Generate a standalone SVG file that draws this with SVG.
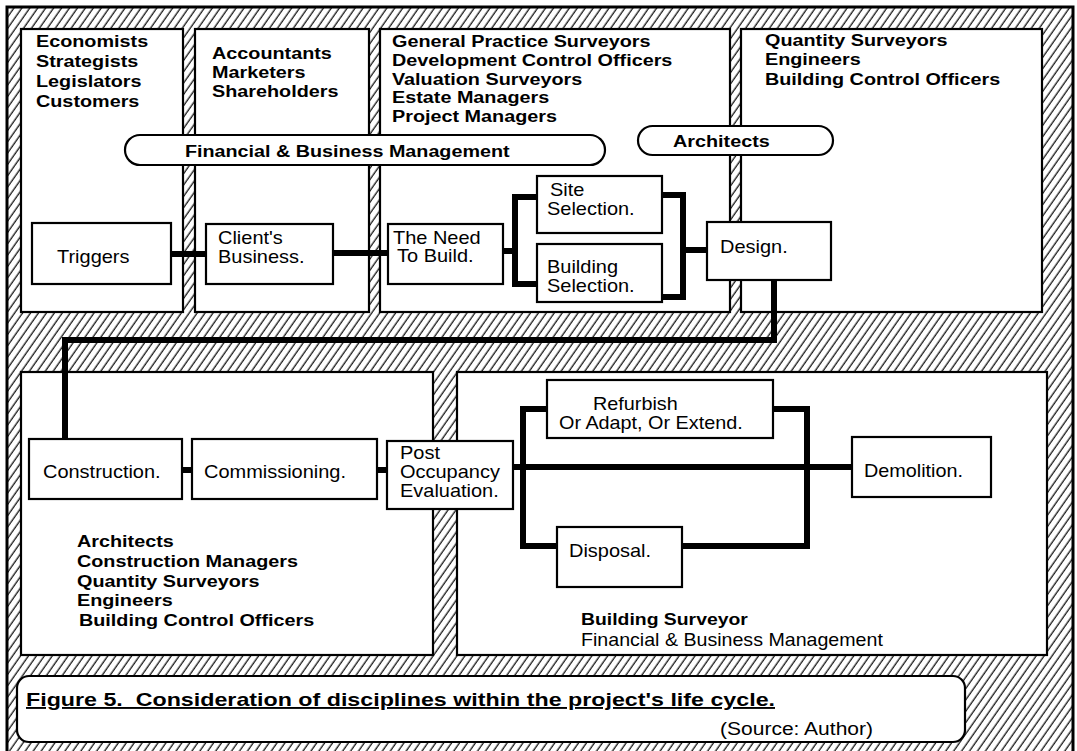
<svg xmlns="http://www.w3.org/2000/svg" width="1077" height="751" viewBox="0 0 1077 751">
  <defs>
    <pattern id="hatch" patternUnits="userSpaceOnUse" width="8" height="6.5" patternTransform="rotate(-55)">
      <line x1="-1" y1="3" x2="9" y2="3" stroke="#000" stroke-width="1.2"/>
    </pattern>
  </defs>
  <style>
    .panel { fill: #fff; stroke: #000; stroke-width: 2.2; }
    .box { fill: #fff; stroke: #000; stroke-width: 2.2; }
    .pill { fill: #fff; stroke: #000; stroke-width: 2.2; }
    .link { fill: none; stroke: #000; stroke-width: 6; stroke-linejoin: miter; stroke-linecap: butt; }
    .b { font-family: "Liberation Sans", Arial, sans-serif; font-weight: bold; font-size: 17px; fill: #000; }
    .r { font-family: "Liberation Sans", Arial, sans-serif; font-size: 18px; fill: #000; }
    .cap { font-family: "Liberation Sans", Arial, sans-serif; font-weight: bold; font-size: 19px; fill: #000; text-decoration: underline; white-space: pre; }
  </style>

  <!-- hatched frame -->
  <rect id="frame" x="7" y="7" width="1066" height="748" fill="url(#hatch)" stroke="#000" stroke-width="3"/>

  <!-- discipline panels -->
  <g id="panel-economic">
    <rect class="panel" x="21" y="29" width="162" height="283"/>
    <text class="b" transform="translate(36 47) scale(1.165 1)">Economists</text>
    <text class="b" transform="translate(36 67) scale(1.165 1)">Strategists</text>
    <text class="b" transform="translate(36 87) scale(1.165 1)">Legislators</text>
    <text class="b" transform="translate(36 107) scale(1.165 1)">Customers</text>
  </g>
  <g id="panel-business">
    <rect class="panel" x="195" y="29" width="174" height="283"/>
    <text class="b" transform="translate(212 59) scale(1.165 1)">Accountants</text>
    <text class="b" transform="translate(212 78) scale(1.165 1)">Marketers</text>
    <text class="b" transform="translate(212 97) scale(1.165 1)">Shareholders</text>
  </g>
  <g id="panel-property">
    <rect class="panel" x="380" y="29" width="350" height="283"/>
    <text class="b" transform="translate(392 47) scale(1.165 1)">General Practice Surveyors</text>
    <text class="b" transform="translate(392 65.75) scale(1.165 1)">Development Control Officers</text>
    <text class="b" transform="translate(392 84.5) scale(1.165 1)">Valuation Surveyors</text>
    <text class="b" transform="translate(392 103.25) scale(1.165 1)">Estate Managers</text>
    <text class="b" transform="translate(392 122) scale(1.165 1)">Project Managers</text>
  </g>
  <g id="panel-design">
    <rect class="panel" x="741" y="29" width="301" height="283"/>
    <text class="b" transform="translate(765 45.5) scale(1.165 1)">Quantity Surveyors</text>
    <text class="b" transform="translate(765 65) scale(1.165 1)">Engineers</text>
    <text class="b" transform="translate(765 85) scale(1.165 1)">Building Control Officers</text>
  </g>
  <g id="panel-construction">
    <rect class="panel" x="21" y="372" width="412" height="283"/>
    <text class="b" transform="translate(77 547) scale(1.165 1)">Architects</text>
    <text class="b" transform="translate(77 566.75) scale(1.165 1)">Construction Managers</text>
    <text class="b" transform="translate(77 586.5) scale(1.165 1)">Quantity Surveyors</text>
    <text class="b" transform="translate(77 606.25) scale(1.165 1)">Engineers</text>
    <text class="b" transform="translate(79 626) scale(1.165 1)">Building Control Officers</text>
  </g>
  <g id="panel-occupancy">
    <rect class="panel" x="457" y="372" width="590" height="283"/>
    <text class="b" transform="translate(581 625) scale(1.14 1)">Building Surveyor</text>
    <text class="r" transform="translate(581 646) scale(1.09 1)">Financial &amp; Business Management</text>
  </g>

  <!-- banners spanning panels -->
  <g id="banner-finance">
    <rect class="pill" x="125" y="135" width="480" height="30" rx="15" ry="15"/>
    <text class="b" transform="translate(185 157) scale(1.162 1)">Financial &amp; Business Management</text>
  </g>
  <g id="banner-architects">
    <rect class="pill" x="638" y="126" width="195" height="29" rx="14.5" ry="14.5"/>
    <text class="b" transform="translate(673 147) scale(1.165 1)">Architects</text>
  </g>

  <!-- connectors -->
  <g id="connectors">
    <line class="link" x1="171" y1="254" x2="206" y2="254"/>
    <line class="link" x1="333" y1="253" x2="388" y2="253"/>
    <line class="link" x1="503" y1="251" x2="515" y2="251"/>
    <polyline class="link" points="537,197 515,197 515,284 537,284"/>
    <polyline class="link" points="662,195 683,195 683,297 662,297"/>
    <line class="link" x1="683" y1="250" x2="707" y2="250"/>
    <polyline class="link" points="774,280 774,340 65,340 65,439"/>
    <line class="link" x1="182" y1="470" x2="192" y2="470"/>
    <line class="link" x1="377" y1="470" x2="387" y2="470"/>
    <line class="link" x1="513" y1="467" x2="852" y2="467"/>
    <polyline class="link" points="547,409 523,409 523,546 557,546"/>
    <polyline class="link" points="773,409 807,409 807,546 682,546"/>
  </g>

  <!-- life-cycle stages -->
  <g id="node-triggers">
    <rect class="box" x="32" y="223" width="139" height="61"/>
    <text class="r" transform="translate(57 263) scale(1.11 1)">Triggers</text>
  </g>
  <g id="node-client">
    <rect class="box" x="206" y="224" width="127" height="60"/>
    <text class="r" transform="translate(218 244) scale(1.11 1)">Client's</text>
    <text class="r" transform="translate(218 263) scale(1.11 1)">Business.</text>
  </g>
  <g id="node-need">
    <rect class="box" x="388" y="224" width="115" height="60"/>
    <text class="r" transform="translate(393 244) scale(1.11 1)">The Need</text>
    <text class="r" transform="translate(397 262) scale(1.11 1)">To Build.</text>
  </g>
  <g id="node-site">
    <rect class="box" x="537" y="176" width="125" height="57"/>
    <text class="r" transform="translate(550 196) scale(1.11 1)">Site</text>
    <text class="r" transform="translate(547 215) scale(1.11 1)">Selection.</text>
  </g>
  <g id="node-building">
    <rect class="box" x="537" y="244" width="125" height="58"/>
    <text class="r" transform="translate(547 273) scale(1.11 1)">Building</text>
    <text class="r" transform="translate(547 292) scale(1.11 1)">Selection.</text>
  </g>
  <g id="node-design">
    <rect class="box" x="707" y="222" width="124" height="58"/>
    <text class="r" transform="translate(720 253) scale(1.11 1)">Design.</text>
  </g>
  <g id="node-construction">
    <rect class="box" x="29" y="439" width="153" height="60"/>
    <text class="r" transform="translate(43 478) scale(1.11 1)">Construction.</text>
  </g>
  <g id="node-commissioning">
    <rect class="box" x="192" y="439" width="185" height="60"/>
    <text class="r" transform="translate(204 478) scale(1.11 1)">Commissioning.</text>
  </g>
  <g id="node-poe">
    <rect class="box" x="387" y="441" width="126" height="68"/>
    <text class="r" transform="translate(400 459) scale(1.11 1)">Post</text>
    <text class="r" transform="translate(400 478) scale(1.11 1)">Occupancy</text>
    <text class="r" transform="translate(400 497) scale(1.11 1)">Evaluation.</text>
  </g>
  <g id="node-refurbish">
    <rect class="box" x="547" y="380" width="226" height="58"/>
    <text class="r" transform="translate(593 410) scale(1.1 1)">Refurbish</text>
    <text class="r" transform="translate(559 429) scale(1.1 1)">Or Adapt, Or Extend.</text>
  </g>
  <g id="node-disposal">
    <rect class="box" x="557" y="527" width="125" height="60"/>
    <text class="r" transform="translate(569 557) scale(1.11 1)">Disposal.</text>
  </g>
  <g id="node-demolition">
    <rect class="box" x="852" y="437" width="139" height="60"/>
    <text class="r" transform="translate(864 477) scale(1.1 1)">Demolition.</text>
  </g>

  <!-- caption -->
  <g id="caption">
    <rect class="panel" x="17" y="676" width="948" height="66" rx="12" ry="12"/>
    <text class="cap" x="26" y="706" textLength="749" lengthAdjust="spacingAndGlyphs" xml:space="preserve">Figure 5.  Consideration of disciplines within the project's life cycle.</text>
    <text class="r" x="720" y="735" textLength="153" lengthAdjust="spacingAndGlyphs">(Source: Author)</text>
  </g>
</svg>
